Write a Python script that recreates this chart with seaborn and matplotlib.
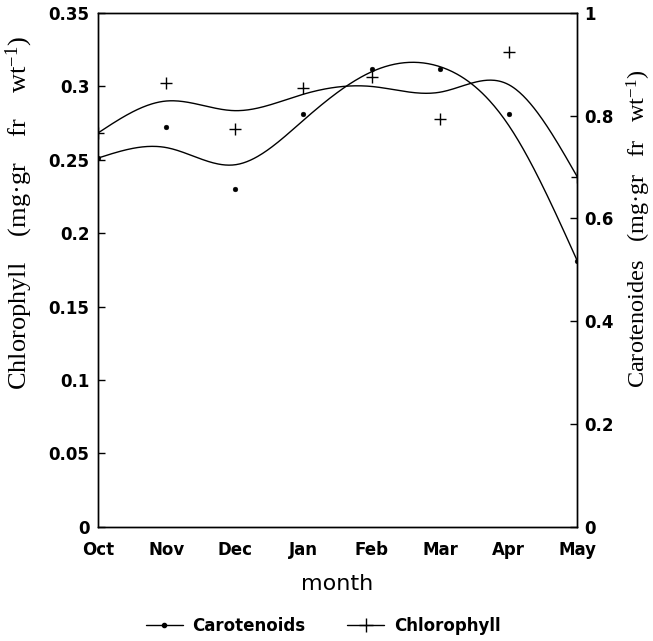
import numpy as np
import pandas as pd
import matplotlib
matplotlib.use("Agg")
import matplotlib.pyplot as plt
from matplotlib.lines import Line2D
import seaborn as sns

months = ["Oct", "Nov", "Dec", "Jan", "Feb", "Mar", "Apr", "May"]
chlorophyll = [0.268, 0.302, 0.271, 0.2986, 0.306, 0.2776, 0.323, 0.238]
carotenoids = [0.717, 0.777, 0.657, 0.804, 0.890, 0.890, 0.803, 0.517]
chl_ticks = [0, 0.05, 0.1, 0.15, 0.2, 0.25, 0.3, 0.35]
chl_tick_labels = ["0", "0.05", "0.1", "0.15", "0.2", "0.25", "0.3", "0.35"]
car_ticks = [0, 0.2, 0.4, 0.6, 0.8, 1]
car_tick_labels = ["0", "0.2", "0.4", "0.6", "0.8", "1"]


def smoothing_spline(x, y, lam, w, xs):
    """Natural cubic smoothing spline (Reinsch form)."""
    x = np.asarray(x, float)
    y = np.asarray(y, float)
    n = len(x)
    h = np.diff(x)
    Q = np.zeros((n, n - 2))
    R = np.zeros((n - 2, n - 2))
    for j in range(1, n - 1):
        Q[j - 1, j - 1] = 1 / h[j - 1]
        Q[j, j - 1] = -1 / h[j - 1] - 1 / h[j]
        Q[j + 1, j - 1] = 1 / h[j]
        R[j - 1, j - 1] = (h[j - 1] + h[j]) / 3
        if j < n - 2:
            R[j - 1, j] = h[j] / 6
            R[j, j - 1] = h[j] / 6
    K = Q @ np.linalg.solve(R, Q.T)
    W = np.diag(w)
    g = np.linalg.solve(W + lam * K, W @ y)
    gam = np.concatenate([[0.0], np.linalg.solve(R, Q.T @ g), [0.0]])
    idx = np.clip(np.searchsorted(x, xs, side="right") - 1, 0, n - 2)
    a = x[idx + 1] - xs
    b = xs - x[idx]
    hi = h[idx]
    return (b * g[idx + 1] + a * g[idx]) / hi - a * b / 6 * (
        (1 + b / hi) * gam[idx + 1] + (1 + a / hi) * gam[idx])


sns.set_theme(style="white")
plt.rcParams["font.family"] = ["DejaVu Sans"]
plt.rcParams["mathtext.default"] = "regular"
plt.rcParams["text.color"] = "black"
plt.rcParams["axes.labelcolor"] = "black"

x = np.arange(len(months), dtype=float)
df = pd.DataFrame({"x": x, "chl": chlorophyll, "car": carotenoids})

weights = np.ones(len(months))
weights[0] = weights[-1] = 25.0
xs = np.linspace(0, len(months) - 1, 400)
fit = pd.DataFrame({
    "x": xs,
    "chl": smoothing_spline(x, chlorophyll, 0.08, weights, xs),
    "car": smoothing_spline(x, carotenoids, 0.08, weights, xs),
})

fig = plt.figure(figsize=(6.53, 6.41), dpi=100)
ax = fig.add_axes([0.150, 0.178, 0.734, 0.802])
ax2 = ax.twinx()

sns.lineplot(data=fit, x="x", y="chl", ax=ax, color="black", lw=1.0)
sns.scatterplot(data=df, x="x", y="chl", ax=ax, marker="+", s=80,
                color="black", linewidth=1.0)
sns.lineplot(data=fit, x="x", y="car", ax=ax2, color="black", lw=1.0)
sns.scatterplot(data=df, x="x", y="car", ax=ax2, marker="o", s=12,
                color="black", edgecolor="black")

ax.set_xlim(0, len(months) - 1)
ax.set_ylim(0, 0.35)
ax2.set_ylim(0, 1)
ax.set_xticks(x)
ax.set_xticklabels(months)
ax.set_yticks(chl_ticks)
ax.set_yticklabels(chl_tick_labels)
ax2.set_yticks(car_ticks)
ax2.set_yticklabels(car_tick_labels)

for a in (ax, ax2):
    for s in a.spines.values():
        s.set_color("black")
        s.set_linewidth(1.0)
    a.tick_params(direction="in", length=5, width=1, colors="black",
                  labelsize=12)
    for lab in a.get_xticklabels() + a.get_yticklabels():
        lab.set_fontweight("bold")
ax.tick_params(axis="x", pad=10)
ax.tick_params(axis="y", pad=6)
ax2.tick_params(axis="y", pad=5)

serif = ["Liberation Serif", "DejaVu Serif"]
ax.set_xlabel("month", fontsize=16, labelpad=11, color="black")
ax.set_ylabel("Chlorophyll    (mg·gr    fr    wt$^{-1}$)", fontsize=19,
              family=serif, color="black")
ax2.set_ylabel("Carotenoides   (mg·gr   fr   wt$^{-1}$)", fontsize=17.5,
               family=serif, color="black")
ax.yaxis.set_label_coords(-0.132, 0.61)
ax2.yaxis.set_label_coords(1.099, 0.58)

handles = [
    Line2D([], [], color="black", lw=1, marker="o", markersize=3),
    Line2D([], [], color="black", lw=1, marker="+", markersize=10),
]
fig.legend(handles, ["Carotenoids", "Chlorophyll"], loc="center",
           bbox_to_anchor=(0.495, 0.024), ncol=2, frameon=False,
           prop={"weight": "bold", "size": 12}, handlelength=2.2,
           columnspacing=2.5, handletextpad=0.6, labelcolor="black")

fig.savefig("out.png", dpi=100, facecolor="white")
